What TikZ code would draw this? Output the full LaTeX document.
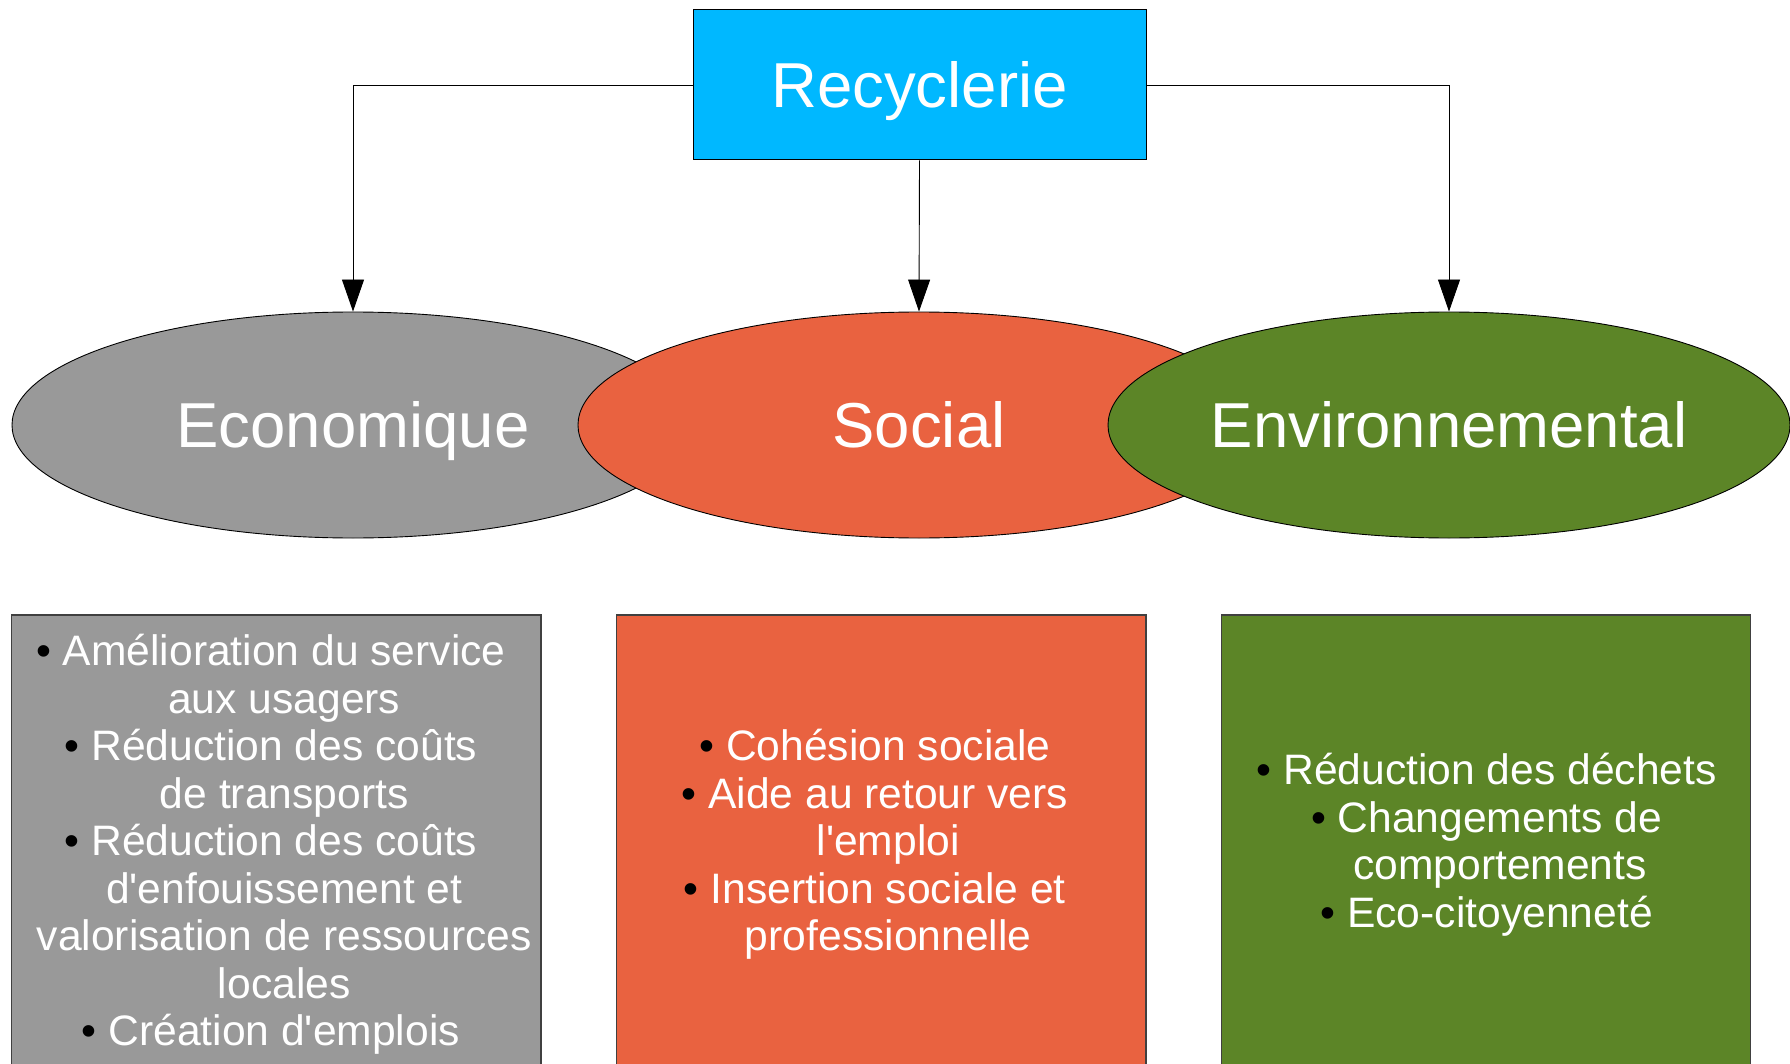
\documentclass[tikz,border=0pt]{standalone}
\usepackage{fontspec}
\setmainfont{Liberation Sans}
\usetikzlibrary{shapes.geometric,arrows.meta}
\definecolor{recblue}{RGB}{0,184,255}
\definecolor{ecogray}{RGB}{153,153,153}
\definecolor{socred}{RGB}{233,98,64}
\definecolor{envgreen}{RGB}{92,133,39}
\tikzset{
  bigtext/.style={text=white, font=\fontsize{63.5}{70}\selectfont, text height=45.5pt, text depth=0pt},
  topbox/.style={bigtext, draw=black, line width=1pt, fill=recblue, minimum width=453pt, minimum height=150pt, inner sep=0pt},
  pillar/.style={bigtext, ellipse, draw=black, line width=0.9pt, minimum width=682pt, minimum height=226pt, inner sep=0pt},
  listbox/.style={draw=black!75, line width=1.2pt, minimum width=529.5pt, minimum height=452pt, inner sep=0pt},
  listtext/.style={text=white, inner sep=0pt, align=center, font=\fontsize{42.6}{47.5}\selectfont, yshift=-3.5pt},
  link/.style={draw=black, line width=0.9pt, -{Triangle[length=32pt,width=22pt]}}
}
\newcommand{\bul}{\llap{{\color{black}•}\ }}
\begin{document}
\begin{tikzpicture}[x=1pt,y=-1pt]
\useasboundingbox (0,0) rectangle (1790,1064);
\clip (0,0) rectangle (1790,1064);
\node[topbox] (rec) at (919.5,85) {Recyclerie};
\node[pillar, fill=ecogray] (eco) at (353,425) {Economique};
\node[pillar, fill=socred] (soc) at (919,425) {Social};
\node[pillar, fill=envgreen] (env) at (1449,425) {Environnemental};
\draw[link] (rec.west) -| (eco.north);
\draw[link] (rec.south) -- (soc.north);
\draw[link] (rec.east) -| (env.north);
\node[listbox, fill=ecogray] (ecolist) at (276.25,841) {};
\node[listbox, fill=socred] (soclist) at (881.25,841) {};
\node[listbox, fill=envgreen] (envlist) at (1486,841) {};
\node[listtext, xshift=8pt] (ecotext) at (ecolist.center) {\bul Amélioration du service\\ aux usagers\\ \bul Réduction des coûts\\ de transports\\ \bul Réduction des coûts\\ d\textquotesingle enfouissement et\\ valorisation de ressources\\ locales\\ \bul Création d\textquotesingle emplois};
\node[listtext, xshift=7pt] (soctext) at (soclist.center) {\bul Cohésion sociale\\ \bul Aide au retour vers\\ l\textquotesingle emploi\\ \bul Insertion sociale et\\ professionnelle};
\node[listtext, xshift=14pt] (envtext) at (envlist.center) {\bul Réduction des déchets\\ \bul Changements de\\ comportements\\ \bul Eco-citoyenneté};
\end{tikzpicture}
\end{document}
